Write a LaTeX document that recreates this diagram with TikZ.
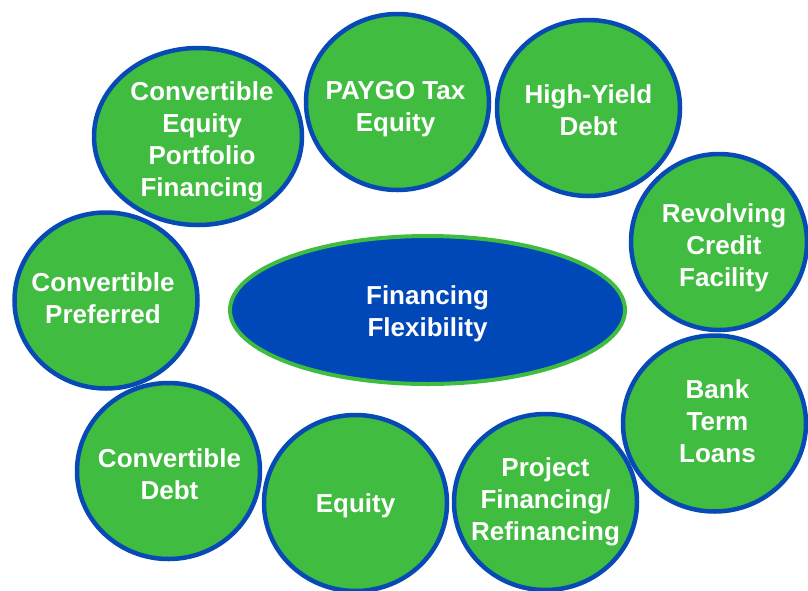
\documentclass[tikz,border=0pt]{standalone}
\usepackage{fontspec}
\setmainfont{Liberation Sans}
\usetikzlibrary{shapes.geometric}

\definecolor{bubblegreen}{RGB}{64,188,64}
\definecolor{rimblue}{RGB}{8,74,181}
\definecolor{coreblue}{RGB}{0,72,183}

\begin{document}
\begin{tikzpicture}[
    x=1pt, y=-1pt,
    bubble/.style={
        ellipse, draw=rimblue, line width=4.5pt,
        fill=bubblegreen,
        minimum width=183pt, minimum height=176pt,
        inner sep=0pt
    },
    core/.style={
        ellipse, draw=bubblegreen, line width=4pt,
        fill=coreblue,
        minimum width=395pt, minimum height=148pt,
        inner sep=0pt
    },
    caption/.style={
        align=center, text=white,
        font=\fontsize{26}{32}\selectfont\bfseries
    }
]
\useasboundingbox (0,0) rectangle (808,590);

% ============ Outer ring ============
\node[bubble, minimum width=208pt, minimum height=177pt] (cepf) at (198,136.5) {};
\node[bubble] (paygo) at (397.5,102) {};
\node[bubble] (hyd) at (588.5,108) {};
\node[bubble, minimum width=176pt] (rcf) at (719,242) {};
\node[bubble] (btl) at (714.5,423.5) {};
\node[bubble] (pfr) at (545.5,502) {};
\node[bubble] (equity) at (355.5,503) {};
\node[bubble] (cdebt) at (168.5,471) {};
\node[bubble] (cpref) at (106,300.5) {};

% ============ Centre ============
\node[core] (flex) at (427.5,310) {};

% ============ Labels ============
\node[caption] (cepf-t) at ([xshift=4pt, yshift=-5pt]cepf) {Convertible\\Equity\\Portfolio\\Financing};
\node[caption] (paygo-t) at ([xshift=-2pt, yshift=-7pt]paygo) {PAYGO Tax\\Equity};
\node[caption] (hyd-t) at ([yshift=-2pt]hyd) {High-Yield\\Debt};
\node[caption] (rcf-t) at ([xshift=5pt, yshift=-6pt]rcf) {Revolving\\Credit\\Facility};
\node[caption] (btl-t) at ([xshift=3pt, yshift=2pt]btl) {Bank\\Term\\Loans};
\node[caption] (pfr-t) at (pfr) {Project\\Financing/\\Refinancing};
\node[caption] (equity-t) at ([yshift=-3pt]equity) {Equity};
\node[caption] (cdebt-t) at ([xshift=1pt, yshift=-3pt]cdebt) {Convertible\\Debt};
\node[caption] (cpref-t) at ([xshift=-3pt, yshift=2pt]cpref) {Convertible\\Preferred};
\node[caption] (flex-t) at ([yshift=-4pt]flex) {Financing\\Flexibility};

\end{tikzpicture}
\end{document}
